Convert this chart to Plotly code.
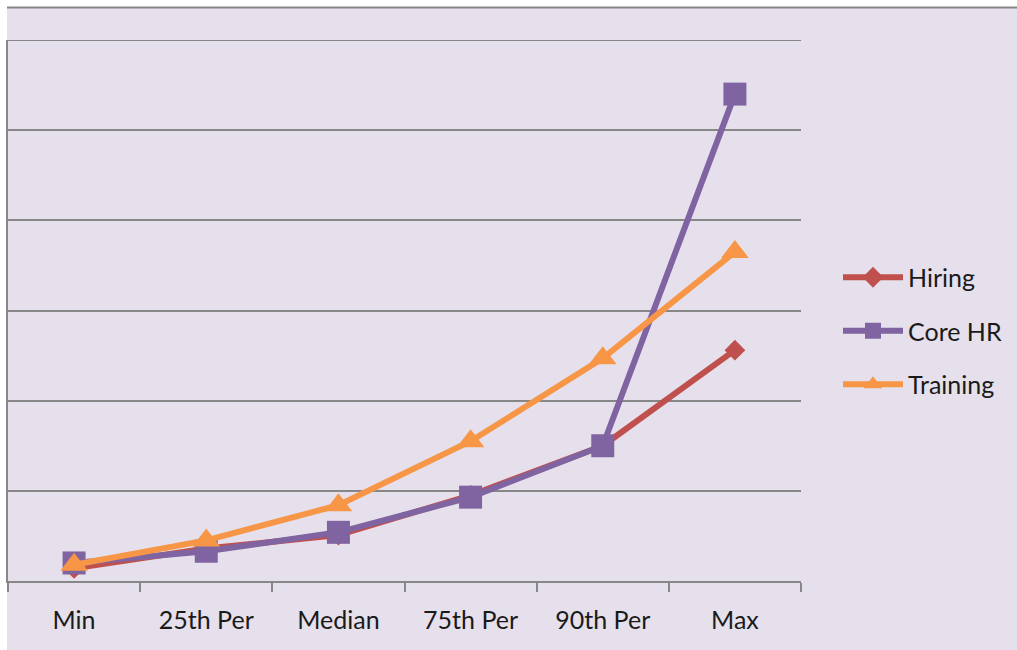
import plotly.graph_objects as go

# Percentile categories and series values
categories = ["Min", "25th Per", "Median", "75th Per", "90th Per", "Max"]
hiring = [0.14, 0.36, 0.51, 0.95, 1.50, 2.56]
core_hr = [0.20, 0.33, 0.54, 0.93, 1.50, 5.40]
training = [0.18, 0.45, 0.84, 1.55, 2.47, 3.65]
y_max = 6

W, H = 1017, 650
ML, MR, MT, MB = 8, 216, 40, 69
PW = W - ML - MR
PH = H - MT - MB

BG = "#E5E0EC"
GRID = "#878787"
FONT = "Lato, 'Open Sans', sans-serif"
FS = 25

fig = go.Figure()

series = [
    ("Hiring", hiring, "#C0504D", "diamond", 16),
    ("Core HR", core_hr, "#8064A2", "square", 23),
    ("Training", training, "#F79646", "triangle-up", 24),
]
for name, vals, color, symbol, size in series:
    fig.add_trace(go.Scatter(
        x=categories, y=vals, name=name, mode="lines+markers",
        line=dict(color=color, width=6),
        marker=dict(symbol=symbol, size=size, color=color),
        legendgroup=name,
    ))

def px_x(px):
    return (px - ML) / PW

def px_y(py):
    return (H - MB - py) / PH

shapes = [
    # white strip along the top and left edges
    dict(type="rect", xref="paper", yref="paper", x0=px_x(0), x1=px_x(W),
         y0=px_y(7), y1=px_y(0), fillcolor="white", line_width=0, layer="below"),
    dict(type="rect", xref="paper", yref="paper", x0=px_x(0), x1=px_x(7),
         y0=px_y(H), y1=px_y(0), fillcolor="white", line_width=0, layer="below"),
    # outer frame line at top
    dict(type="line", xref="paper", yref="paper", x0=px_x(7), x1=px_x(W),
         y0=px_y(7.5), y1=px_y(7.5), line=dict(color=GRID, width=2), layer="below"),
    # top gridline at the upper end of the value range
    dict(type="line", xref="paper", yref="y", x0=0, x1=1, y0=y_max, y1=y_max,
         line=dict(color=GRID, width=2), layer="below"),
]

fig.update_layout(
    width=W, height=H,
    margin=dict(l=ML, r=MR, t=MT, b=MB, pad=0),
    paper_bgcolor=BG, plot_bgcolor=BG,
    font=dict(family=FONT, size=FS, color="#1a1a1a"),
    shapes=shapes,
    showlegend=True,
    legend=dict(
        x=px_x(838), xanchor="left", y=px_y(331), yanchor="middle",
        bgcolor="rgba(0,0,0,0)", font=dict(size=FS, family=FONT),
        itemwidth=60, tracegroupgap=18, traceorder="grouped",
    ),
    xaxis=dict(
        type="category", range=[-0.5, 5.5],
        showline=True, linecolor=GRID, linewidth=2,
        ticks="outside", tickson="boundaries", ticklen=9, tickwidth=2, tickcolor=GRID,
        ticklabelstandoff=16,
        showgrid=False, tickfont=dict(size=FS, family=FONT, color="#1a1a1a"),
        fixedrange=True,
    ),
    yaxis=dict(
        range=[0, y_max], dtick=1, showgrid=True, gridcolor=GRID, gridwidth=2,
        showticklabels=False, showline=True, linecolor=GRID, linewidth=2,
        zeroline=False, ticks="", fixedrange=True,
    ),
)

fig.write_html("out.html")
